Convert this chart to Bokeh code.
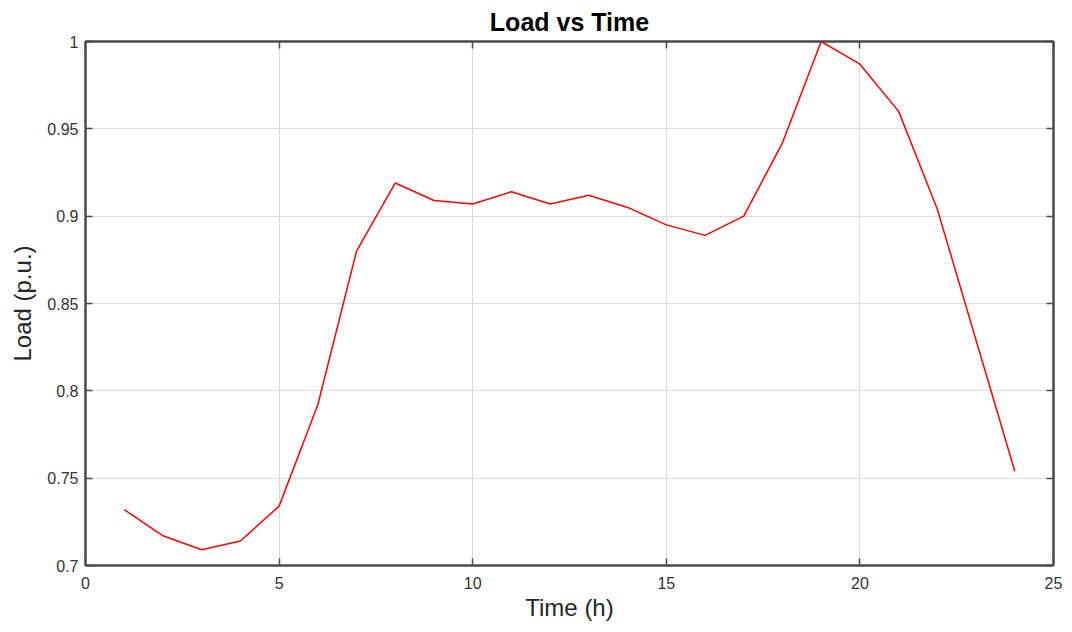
from bokeh.plotting import figure
from bokeh.models import LinearAxis, FixedTicker, Range1d
from bokeh.embed import file_html
from bokeh.resources import INLINE

hours = [1, 2, 3, 4, 5, 6, 7, 8, 9, 10, 11, 12, 13, 14, 15, 16, 17, 18, 19, 20, 21, 22, 23, 24]
load = [0.732, 0.717, 0.709, 0.714, 0.734, 0.792, 0.880, 0.919, 0.909, 0.907, 0.914, 0.907,
        0.912, 0.905, 0.895, 0.889, 0.900, 0.942, 1.000, 0.987, 0.960, 0.904, 0.829, 0.754]
x_ticks = [0, 5, 10, 15, 20, 25]
y_ticks = [0.7, 0.75, 0.8, 0.85, 0.9, 0.95, 1.0]
y_tick_labels = {0.7: "0.7", 0.75: "0.75", 0.8: "0.8", 0.85: "0.85", 0.9: "0.9", 0.95: "0.95", 1.0: "1"}

FONT = "Liberation Sans"
FRAME = "#4a4a4a"

p = figure(frame_width=968, frame_height=524, x_range=Range1d(0, 25), y_range=Range1d(0.7, 1.0),
           output_backend="svg", toolbar_location=None,
           min_border_left=85, min_border_right=11, min_border_top=31, min_border_bottom=40,
           x_axis_label="Time (h)", y_axis_label="Load (p.u.)")

p.title.text = "Load vs Time"
p.title.align = "center"
p.title.text_font = FONT
p.title.text_font_size = "25px"
p.title.text_font_style = "bold"
p.title.text_color = "#000000"
p.title.standoff = 11

p.outline_line_color = FRAME
p.outline_line_width = 2
p.background_fill_color = "white"
p.border_fill_color = "white"

for ax in (p.xaxis[0], p.yaxis[0]):
    ax.axis_line_color = FRAME
    ax.axis_line_width = 2
    ax.major_tick_in = 7
    ax.major_tick_out = 0
    ax.major_tick_line_color = FRAME
    ax.major_tick_line_width = 1.5
    ax.minor_tick_line_color = None
    ax.major_label_text_font = FONT
    ax.major_label_text_font_size = "16px"
    ax.major_label_text_color = "#333333"
    ax.axis_label_text_font = FONT
    ax.axis_label_text_font_size = "24px"
    ax.axis_label_text_font_style = "normal"
    ax.axis_label_text_color = "#262626"

p.xaxis[0].ticker = FixedTicker(ticks=x_ticks)
p.yaxis[0].ticker = FixedTicker(ticks=y_ticks)
p.yaxis[0].major_label_overrides = y_tick_labels
p.xaxis[0].major_label_standoff = 11
p.xaxis[0].axis_label_standoff = 2
p.yaxis[0].major_label_standoff = 7
p.yaxis[0].axis_label_standoff = 8

for loc, tk in (("right", y_ticks), ("above", x_ticks)):
    a = LinearAxis(ticker=FixedTicker(ticks=tk))
    a.axis_line_color = FRAME
    a.axis_line_width = 2
    a.major_tick_in = 7
    a.major_tick_out = 0
    a.major_tick_line_color = FRAME
    a.major_tick_line_width = 1.5
    a.minor_tick_line_color = None
    a.major_label_overrides = {t: "" for t in tk}
    a.major_label_standoff = 0
    p.add_layout(a, loc)

p.xgrid.ticker = FixedTicker(ticks=x_ticks)
p.ygrid.ticker = FixedTicker(ticks=y_ticks)
p.grid.grid_line_color = "#dcdcdc"
p.grid.grid_line_width = 1

p.line(hours, load, line_color="#ff0000", line_width=1.5)

open("out.html", "w").write(file_html(p, INLINE))
